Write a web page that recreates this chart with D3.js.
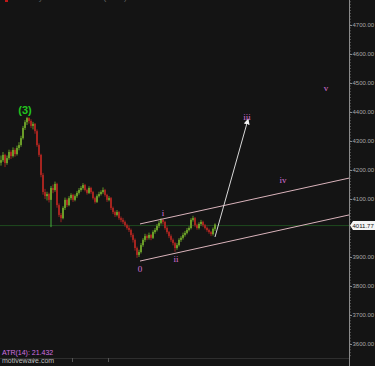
<!DOCTYPE html>
<html>
<head>
  <meta charset="UTF-8">
  <style>
    body { margin: 0; background: #141414; }
    svg { display: block; background: #141414; }
    .axis text { font-family: "Liberation Sans", Arial, sans-serif; font-size: 6px; fill: #a8a8a8; }
    .axis line, .axis path { stroke: #8a8a8a; }
    .wave { font-family: "Liberation Serif", serif; font-size: 9px; fill: #d672d8; }
  </style>
</head>
<body>
<svg></svg>
<script src="https://d3js.org/d3.v7.min.js"></script>
<script>

// daily bars, [open, high, low, close]
let bars = [
  [4225,4250,4215,4234],[4234,4262,4228,4252],[4252,4256,4210,4224],[4224,4250,4218,4241],
  [4241,4270,4235,4262],[4262,4268,4238,4248],[4248,4278,4243,4269],[4269,4275,4246,4255],
  [4255,4284,4250,4276],[4276,4296,4268,4286],[4286,4318,4280,4310],[4310,4352,4305,4345],
  [4345,4372,4338,4365],[4365,4383,4355,4379],[4379,4382,4360,4369],[4369,4375,4345,4352],
  [4352,4366,4340,4359],[4359,4362,4325,4334],[4334,4340,4280,4286],[4286,4292,4245,4252],
  [4252,4256,4175,4183],[4183,4190,4115,4124],[4124,4135,4100,4110],[4110,4125,4095,4117],
  [4117,4122,4088,4097],[4097,4145,4003,4138],[4138,4150,4120,4131],[4131,4160,4125,4152],
  [4152,4156,4070,4079],[4079,4085,4038,4045],[4045,4052,4020,4034],[4034,4075,4030,4069],
  [4069,4105,4062,4097],[4097,4102,4072,4079],[4079,4110,4075,4103],[4103,4120,4096,4114],
  [4114,4118,4090,4097],[4097,4116,4092,4110],[4110,4128,4104,4121],[4121,4138,4115,4131],
  [4131,4145,4125,4138],[4138,4155,4132,4148],[4148,4152,4126,4131],[4131,4136,4115,4121],
  [4121,4144,4117,4138],[4138,4142,4118,4124],[4124,4128,4098,4103],[4103,4108,4084,4090],
  [4090,4116,4086,4110],[4110,4125,4105,4117],[4117,4130,4112,4124],[4124,4140,4118,4131],
  [4131,4135,4108,4114],[4114,4118,4090,4097],[4097,4110,4092,4103],[4103,4107,4062,4069],
  [4069,4074,4048,4055],[4055,4060,4038,4045],[4045,4062,4040,4055],[4055,4058,4028,4034],
  [4034,4040,4020,4028],[4028,4035,4014,4021],[4021,4026,4004,4010],[4010,4015,3994,4000],
  [4000,4008,3986,3993],[3993,3998,3968,3976],[3976,3982,3950,3959],[3959,3964,3922,3931],
  [3931,3936,3897,3907],[3907,3925,3900,3917],[3917,3948,3912,3941],[3941,3965,3935,3959],
  [3959,3980,3952,3972],[3972,3978,3958,3966],[3966,3984,3960,3976],[3976,3980,3958,3966],
  [3966,3992,3962,3986],[3986,4000,3980,3993],[3993,4014,3988,4007],[4007,4024,4000,4017],
  [4017,4034,4012,4028],[4028,4032,4012,4021],[4021,4025,3994,4000],[4000,4006,3980,3986],
  [3986,3990,3965,3972],[3972,3978,3952,3959],[3959,3964,3940,3948],[3948,3952,3918,3931],
  [3931,3948,3925,3941],[3941,3965,3936,3959],[3959,3972,3952,3966],[3966,3984,3960,3976],
  [3976,3990,3970,3983],[3983,4000,3978,3993],[3993,4006,3988,4000],[4000,4034,3995,4028],
  [4028,4042,4022,4034],[4034,4038,4004,4010],[4010,4015,3994,4000],[4000,4020,3995,4014],
  [4014,4028,4008,4021],[4021,4025,4004,4010],[4010,4014,3995,4000],[4000,4005,3987,3993],
  [3993,3998,3980,3986],[3986,3990,3972,3979],[3979,4002,3974,3997],[3997,4016,3990,4012]
];

let lastPrice = 4011.77;
// 4000 is hidden under the last price tag
let priceTicks = [3600, 3700, 3800, 3900, 4100, 4200, 4300, 4400, 4500, 4600, 4700];

// channel lines and projection arrow, [bar, price]
let upperChannel = [[69.5, 4014], [174, 4172]];
let lowerChannel = [[69.5, 3886], [174, 4045]];
let projection = [[107, 3969], [123.5, 4374]];

// wave labels
let waveLabels = [
  {t: "0",   bar: 69.5,  p: 3860},
  {t: "i",   bar: 81,    p: 4052},
  {t: "ii",  bar: 87.5,  p: 3892},
  {t: "iii", bar: 123,   p: 4384},
  {t: "iv",  bar: 141,   p: 4167},
  {t: "v",   bar: 162.5, p: 4482}
];
let degreeLabel = {t: "(3)", bar: 12, p: 4407};

let width = 375, height = 366;
let axisX = 349;

let svg = d3.select("svg")
    .attr("width", width)
    .attr("height", height);

let x = d3.scaleLinear().domain([0, 174]).range([1, axisX]);
let y = d3.scaleLinear().domain([3600, 4700]).range([344, 25]);

// last price line
svg.append("line")
    .attr("x1", 0).attr("x2", axisX)
    .attr("y1", y(lastPrice) + 1).attr("y2", y(lastPrice) + 1)
    .attr("stroke", "#1f4a1f")
    .attr("stroke-width", 1);

// candles
let candle = svg.append("g").selectAll("g")
    .data(bars)
    .enter().append("g");

candle.append("line")
    .attr("x1", (d, i) => x(i)).attr("x2", (d, i) => x(i))
    .attr("y1", d => y(d[1])).attr("y2", d => y(d[2]))
    .attr("stroke", (d, i) => d[3] >= d[0] ? (i == 25 ? "#46b03c" : "#5f9424") : "#9b2220")
    .attr("stroke-width", 1);

candle.append("rect")
    .attr("x", (d, i) => x(i) - 1)
    .attr("width", 2)
    .attr("y", d => y(Math.max(d[0], d[3])))
    .attr("height", d => Math.max(1, Math.abs(y(d[0]) - y(d[3]))))
    .attr("fill", d => d[3] >= d[0] ? "#6a9c28" : "#a5241f");

// channel
let line = d3.line().x(d => x(d[0])).y(d => y(d[1]));
[upperChannel, lowerChannel].forEach(c => {
  svg.append("path")
      .attr("d", line(c))
      .attr("stroke", "#d9b3bb")
      .attr("stroke-width", 1)
      .attr("fill", "none");
});

// projection arrow
svg.append("defs").append("marker")
    .attr("id", "head")
    .attr("viewBox", "0 0 10 10")
    .attr("refX", 8).attr("refY", 5)
    .attr("markerWidth", 6).attr("markerHeight", 6)
    .attr("orient", "auto")
    .append("path")
    .attr("d", "M0,0 L10,5 L0,10 z")
    .attr("fill", "#f2f2f2");

svg.append("path")
    .attr("d", line(projection))
    .attr("stroke", "#d8d8d8")
    .attr("stroke-width", 1)
    .attr("fill", "none")
    .attr("marker-end", "url(#head)");

// labels
svg.selectAll("text.wave")
    .data(waveLabels)
    .enter().append("text")
    .attr("class", "wave")
    .attr("x", d => x(d.bar))
    .attr("y", d => y(d.p))
    .attr("text-anchor", "middle")
    .attr("dy", "0.35em")
    .text(d => d.t);

svg.append("text")
    .attr("x", x(degreeLabel.bar))
    .attr("y", y(degreeLabel.p))
    .attr("dy", "0.35em")
    .attr("text-anchor", "middle")
    .style("font-family", "'Liberation Sans', Arial, sans-serif")
    .style("font-size", "11px")
    .style("font-weight", "bold")
    .style("fill", "#22c41e")
    .text(degreeLabel.t);

// price axis
let minor = d3.range(3560, 4790, 10);
svg.append("g")
    .selectAll("line")
    .data(minor)
    .enter().append("line")
    .attr("x1", axisX).attr("x2", axisX + 2)
    .attr("y1", d => y(d)).attr("y2", d => y(d))
    .attr("stroke", "#7a7a7a")
    .attr("stroke-width", 0.6);

svg.append("g")
    .attr("class", "axis")
    .attr("transform", "translate(" + axisX + ",0)")
    .call(d3.axisRight(y).tickValues(priceTicks).tickFormat(d3.format(".2f")).tickSize(3).tickPadding(0.5))
    .call(g => g.select(".domain").attr("d", "M0.5,0V" + height));

// last price tag
let ty = y(lastPrice) + 1;
svg.append("path")
    .attr("d", `M${axisX + 1},${ty} L${axisX + 4},${ty - 4.5} H${width} V${ty + 4.5} H${axisX + 4} Z`)
    .attr("fill", "#f4f4f4");
svg.append("text")
    .attr("x", axisX + 3.5)
    .attr("y", ty)
    .attr("dy", "0.35em")
    .style("font-family", "'Liberation Sans', Arial, sans-serif")
    .style("font-size", "6px")
    .style("fill", "#111")
    .text(lastPrice.toFixed(2));

// header cut off at the top
svg.append("rect").attr("x", 5).attr("y", 0).attr("width", 3).attr("height", 2).attr("fill", "#c01818");
svg.append("text")
    .attr("x", 12).attr("y", -0.5)
    .style("font-family", "'Liberation Sans', Arial, sans-serif")
    .style("font-size", "8px")
    .style("fill", "#666")
    .text("ES  Daily  E-mini S&P 500  (CME)");

// bottom panel
svg.append("line")
    .attr("x1", 0).attr("x2", axisX)
    .attr("y1", 358.5).attr("y2", 358.5)
    .attr("stroke", "#2e2e2e");
[33, 72, 108].forEach(t => {
  svg.append("line")
      .attr("x1", t + 0.5).attr("x2", t + 0.5)
      .attr("y1", 358).attr("y2", 362)
      .attr("stroke", "#555");
});

svg.append("text")
    .attr("x", 2).attr("y", 355)
    .style("font-family", "'Liberation Sans', Arial, sans-serif")
    .style("font-size", "7px")
    .style("fill", "#d070e0")
    .text("ATR(14): 21.432");

svg.append("text")
    .attr("x", 2).attr("y", 363)
    .style("font-family", "'Liberation Sans', Arial, sans-serif")
    .style("font-size", "7px")
    .style("fill", "#bdbdbd")
    .text("motivewave.com");

</script>
</body>
</html>
